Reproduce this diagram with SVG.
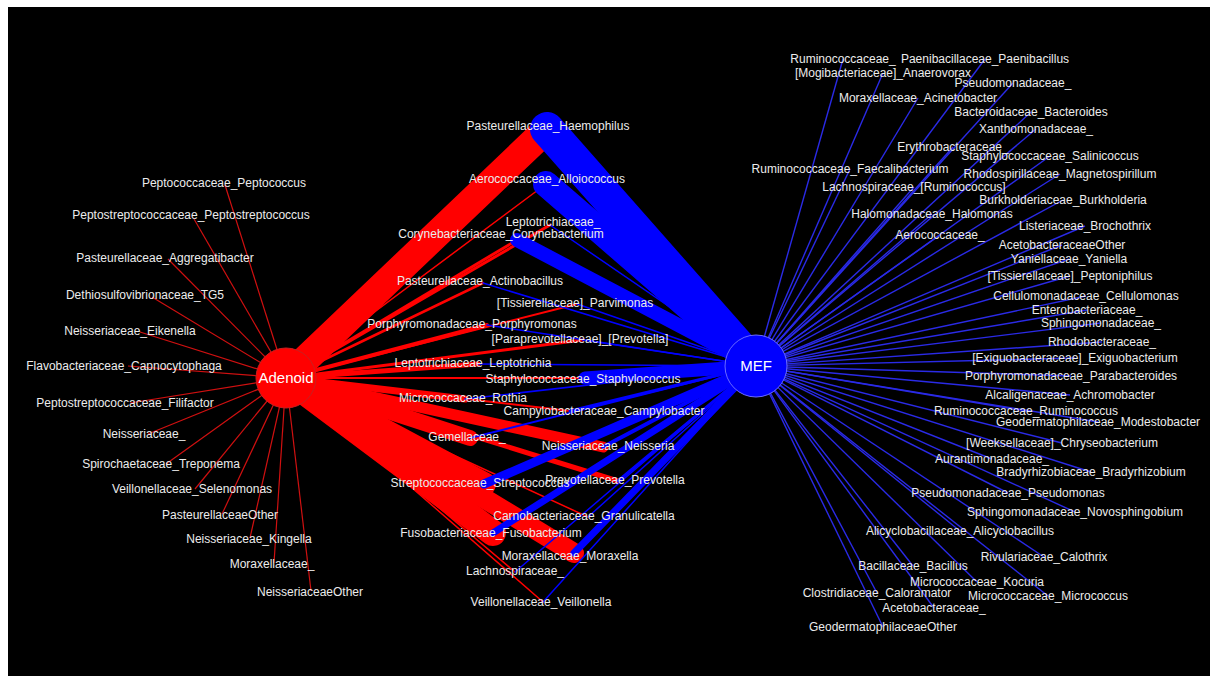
<svg xmlns="http://www.w3.org/2000/svg" width="1210" height="682" viewBox="0 0 1210 682">
<style>
.bg{fill:#000}
.r{stroke:#ff0000;fill:none;stroke-linecap:round}
.rt{stroke:#d01010;stroke-width:1.2;fill:none}
.b{stroke:#0000ff;fill:none;stroke-linecap:round}
.bt{stroke:#2a2ae6;stroke-width:1.4;fill:none}
text{font-family:"Liberation Sans",Arial,sans-serif;font-size:12px;fill:#ececec;text-anchor:middle}
.big{font-size:15px;fill:#ffffff}
</style>
<rect x="0" y="0" width="1210" height="682" fill="#ffffff"/>
<rect class="bg" x="8" y="7" width="1202" height="669"/>
<g id="connectors">
<g class="rt">
<line x1="286" y1="378" x2="225" y2="185"/>
<line x1="286" y1="378" x2="194" y2="219"/>
<line x1="286" y1="378" x2="168" y2="259"/>
<line x1="286" y1="378" x2="152" y2="297"/>
<line x1="286" y1="378" x2="140" y2="332"/>
<line x1="286" y1="378" x2="128" y2="366"/>
<line x1="286" y1="378" x2="130" y2="403"/>
<line x1="286" y1="378" x2="148" y2="434"/>
<line x1="286" y1="378" x2="166" y2="464"/>
<line x1="286" y1="378" x2="195" y2="489"/>
<line x1="286" y1="378" x2="222" y2="514"/>
<line x1="286" y1="378" x2="250" y2="538"/>
<line x1="286" y1="378" x2="274" y2="563"/>
<line x1="286" y1="378" x2="311" y2="591"/>
</g>
<line class="r" x1="286" y1="378" x2="547" y2="129" stroke-width="28"/>
<line class="r" x1="286" y1="378" x2="546" y2="184" stroke-width="1.5"/>
<line class="r" x1="286" y1="378" x2="550" y2="225" stroke-width="3"/>
<line class="r" x1="286" y1="378" x2="517" y2="240" stroke-width="3"/>
<line class="r" x1="286" y1="378" x2="483" y2="283" stroke-width="2.5"/>
<line class="r" x1="286" y1="378" x2="577" y2="304" stroke-width="2"/>
<line class="r" x1="286" y1="378" x2="487" y2="325" stroke-width="4"/>
<line class="r" x1="286" y1="378" x2="583" y2="340" stroke-width="3"/>
<line class="r" x1="286" y1="378" x2="478" y2="364" stroke-width="5"/>
<line class="r" x1="286" y1="378" x2="585" y2="378" stroke-width="2"/>
<line class="r" x1="286" y1="378" x2="465" y2="399" stroke-width="7"/>
<line class="r" x1="286" y1="378" x2="570" y2="411" stroke-width="2"/>
<line class="r" x1="286" y1="378" x2="470" y2="438" stroke-width="16"/>
<line class="r" x1="286" y1="378" x2="603" y2="447" stroke-width="11"/>
<line class="r" x1="286" y1="378" x2="484" y2="484" stroke-width="24"/>
<line class="r" x1="286" y1="378" x2="618" y2="481" stroke-width="5"/>
<line class="r" x1="286" y1="378" x2="588" y2="517" stroke-width="1.5"/>
<line class="r" x1="286" y1="378" x2="493" y2="533" stroke-width="26"/>
<line class="r" x1="286" y1="378" x2="574" y2="553" stroke-width="20"/>
<line class="r" x1="286" y1="378" x2="515" y2="572" stroke-width="1.5"/>
<line class="r" x1="286" y1="378" x2="543" y2="602" stroke-width="1.5"/>
<line class="b" x1="756" y1="366" x2="547" y2="129" stroke-width="34"/>
<line class="b" x1="756" y1="366" x2="546" y2="184" stroke-width="26"/>
<line class="b" x1="756" y1="366" x2="550" y2="225" stroke-width="1.5"/>
<line class="b" x1="756" y1="366" x2="517" y2="240" stroke-width="14"/>
<line class="b" x1="756" y1="366" x2="483" y2="283" stroke-width="1.5"/>
<line class="b" x1="756" y1="366" x2="577" y2="304" stroke-width="1.5"/>
<line class="b" x1="756" y1="366" x2="487" y2="325" stroke-width="1.5"/>
<line class="b" x1="756" y1="366" x2="583" y2="340" stroke-width="1.5"/>
<line class="b" x1="756" y1="366" x2="478" y2="364" stroke-width="1.5"/>
<line class="b" x1="756" y1="366" x2="585" y2="378" stroke-width="13"/>
<line class="b" x1="756" y1="366" x2="465" y2="399" stroke-width="1.5"/>
<line class="b" x1="756" y1="366" x2="570" y2="411" stroke-width="3"/>
<line class="b" x1="756" y1="366" x2="470" y2="438" stroke-width="2"/>
<line class="b" x1="756" y1="366" x2="603" y2="447" stroke-width="4"/>
<line class="b" x1="756" y1="366" x2="484" y2="484" stroke-width="9"/>
<line class="b" x1="756" y1="366" x2="618" y2="481" stroke-width="3"/>
<line class="b" x1="756" y1="366" x2="588" y2="517" stroke-width="1.5"/>
<line class="b" x1="756" y1="366" x2="493" y2="533" stroke-width="7"/>
<line class="b" x1="756" y1="366" x2="574" y2="553" stroke-width="7"/>
<line class="b" x1="756" y1="366" x2="515" y2="572" stroke-width="1.5"/>
<line class="b" x1="756" y1="366" x2="543" y2="602" stroke-width="1.5"/>
<g class="bt">
<line x1="756" y1="366" x2="843" y2="59"/>
<line x1="756" y1="366" x2="985" y2="59"/>
<line x1="756" y1="366" x2="883" y2="73"/>
<line x1="756" y1="366" x2="1013" y2="83"/>
<line x1="756" y1="366" x2="918" y2="98"/>
<line x1="756" y1="366" x2="1031" y2="112"/>
<line x1="756" y1="366" x2="1036" y2="129"/>
<line x1="756" y1="366" x2="953" y2="147"/>
<line x1="756" y1="366" x2="1050" y2="156"/>
<line x1="756" y1="366" x2="850" y2="169"/>
<line x1="756" y1="366" x2="1060" y2="174"/>
<line x1="756" y1="366" x2="914" y2="187"/>
<line x1="756" y1="366" x2="1063" y2="200"/>
<line x1="756" y1="366" x2="932" y2="214"/>
<line x1="756" y1="366" x2="1085" y2="226"/>
<line x1="756" y1="366" x2="940" y2="235"/>
<line x1="756" y1="366" x2="1062" y2="245"/>
<line x1="756" y1="366" x2="1069" y2="259"/>
<line x1="756" y1="366" x2="1070" y2="276"/>
<line x1="756" y1="366" x2="1086" y2="296"/>
<line x1="756" y1="366" x2="1087" y2="310"/>
<line x1="756" y1="366" x2="1101" y2="323"/>
<line x1="756" y1="366" x2="1102" y2="342"/>
<line x1="756" y1="366" x2="1075" y2="358"/>
<line x1="756" y1="366" x2="1071" y2="376"/>
<line x1="756" y1="366" x2="1070" y2="395"/>
<line x1="756" y1="366" x2="1026" y2="411"/>
<line x1="756" y1="366" x2="1098" y2="422"/>
<line x1="756" y1="366" x2="1062" y2="443"/>
<line x1="756" y1="366" x2="992" y2="459"/>
<line x1="756" y1="366" x2="1091" y2="472"/>
<line x1="756" y1="366" x2="1008" y2="493"/>
<line x1="756" y1="366" x2="1075" y2="512"/>
<line x1="756" y1="366" x2="960" y2="531"/>
<line x1="756" y1="366" x2="1044" y2="557"/>
<line x1="756" y1="366" x2="913" y2="566"/>
<line x1="756" y1="366" x2="977" y2="582"/>
<line x1="756" y1="366" x2="877" y2="593"/>
<line x1="756" y1="366" x2="1048" y2="596"/>
<line x1="756" y1="366" x2="934" y2="608"/>
<line x1="756" y1="366" x2="883" y2="627"/>
</g>
</g>
<g id="node-Adenoid"><circle cx="286" cy="378" r="30" fill="#ff0000" stroke="#c82020" stroke-width="1"/><text class="big" x="286" y="383">Adenoid</text></g>
<g id="node-MEF"><circle cx="756" cy="366" r="31" fill="#0000ff" stroke="#6a6aff" stroke-width="1"/><text class="big" x="756" y="371">MEF</text></g>
<g id="n-Peptococcus"><text x="224" y="187">Peptococcaceae_Peptococcus</text></g>
<g id="n-Peptostreptococcus"><text x="191" y="219">Peptostreptococcaceae_Peptostreptococcus</text></g>
<g id="n-Aggregatibacter"><text x="165" y="262">Pasteurellaceae_Aggregatibacter</text></g>
<g id="n-TG5"><text x="145" y="299">Dethiosulfovibrionaceae_TG5</text></g>
<g id="n-Eikenella"><text x="130" y="335">Neisseriaceae_Eikenella</text></g>
<g id="n-Capnocytophaga"><text x="124" y="370">Flavobacteriaceae_Capnocytophaga</text></g>
<g id="n-Filifactor"><text x="125" y="407">Peptostreptococcaceae_Filifactor</text></g>
<g id="n-Neisseriaceae"><text x="144" y="438">Neisseriaceae_</text></g>
<g id="n-Treponema"><text x="161" y="468">Spirochaetaceae_Treponema</text></g>
<g id="n-Selenomonas"><text x="192" y="493">Veillonellaceae_Selenomonas</text></g>
<g id="n-PasteurellaceaeOther"><text x="220" y="519">PasteurellaceaeOther</text></g>
<g id="n-Kingella"><text x="249" y="543">Neisseriaceae_Kingella</text></g>
<g id="n-Moraxellaceae"><text x="272" y="568">Moraxellaceae_</text></g>
<g id="n-NeisseriaceaeOther"><text x="310" y="596">NeisseriaceaeOther</text></g>
<g id="n-Haemophilus"><text x="548" y="130">Pasteurellaceae_Haemophilus</text></g>
<g id="n-Alloiococcus"><text x="547" y="183">Aerococcaceae_Alloiococcus</text></g>
<g id="n-Leptotrichiaceae"><text x="553" y="226">Leptotrichiaceae_</text></g>
<g id="n-Corynebacterium"><text x="501" y="238">Corynebacteriaceae_Corynebacterium</text></g>
<g id="n-Actinobacillus"><text x="480" y="285">Pasteurellaceae_Actinobacillus</text></g>
<g id="n-Parvimonas"><text x="575" y="307">[Tissierellaceae]_Parvimonas</text></g>
<g id="n-Porphyromonas"><text x="472" y="328">Porphyromonadaceae_Porphyromonas</text></g>
<g id="n-Paraprevotella"><text x="580" y="343">[Paraprevotellaceae]_[Prevotella]</text></g>
<g id="n-Leptotrichia"><text x="473" y="367">Leptotrichiaceae_Leptotrichia</text></g>
<g id="n-Staphylococcus"><text x="583" y="383">Staphylococcaceae_Staphylococcus</text></g>
<g id="n-Rothia"><text x="463" y="402">Micrococcaceae_Rothia</text></g>
<g id="n-Campylobacter"><text x="604" y="415">Campylobacteraceae_Campylobacter</text></g>
<g id="n-Gemellaceae"><text x="467" y="441">Gemellaceae_</text></g>
<g id="n-Neisseria"><text x="608" y="450">Neisseriaceae_Neisseria</text></g>
<g id="n-Streptococcus"><text x="480" y="487">Streptococcaceae_Streptococcus</text></g>
<g id="n-Prevotella"><text x="615" y="484">Prevotellaceae_Prevotella</text></g>
<g id="n-Granulicatella"><text x="584" y="520">Carnobacteriaceae_Granulicatella</text></g>
<g id="n-Fusobacterium"><text x="491" y="537">Fusobacteriaceae_Fusobacterium</text></g>
<g id="n-Moraxella"><text x="570" y="560">Moraxellaceae_Moraxella</text></g>
<g id="n-Lachnospiraceae"><text x="515" y="575">Lachnospiraceae_</text></g>
<g id="n-Veillonella"><text x="541" y="606">Veillonellaceae_Veillonella</text></g>
<g id="n-Ruminococcaceae"><text x="843" y="63">Ruminococcaceae_</text></g>
<g id="n-Paenibacillus"><text x="985" y="63">Paenibacillaceae_Paenibacillus</text></g>
<g id="n-Anaerovorax"><text x="883" y="77">[Mogibacteriaceae]_Anaerovorax</text></g>
<g id="n-Pseudomonadaceae"><text x="1013" y="87">Pseudomonadaceae_</text></g>
<g id="n-Acinetobacter"><text x="918" y="102">Moraxellaceae_Acinetobacter</text></g>
<g id="n-Bacteroides"><text x="1031" y="116">Bacteroidaceae_Bacteroides</text></g>
<g id="n-Xanthomonadaceae"><text x="1036" y="133">Xanthomonadaceae_</text></g>
<g id="n-Erythrobacteraceae"><text x="953" y="151">Erythrobacteraceae_</text></g>
<g id="n-Salinicoccus"><text x="1050" y="160">Staphylococcaceae_Salinicoccus</text></g>
<g id="n-Faecalibacterium"><text x="850" y="173">Ruminococcaceae_Faecalibacterium</text></g>
<g id="n-Magnetospirillum"><text x="1060" y="178">Rhodospirillaceae_Magnetospirillum</text></g>
<g id="n-Ruminococcus2"><text x="914" y="191">Lachnospiraceae_[Ruminococcus]</text></g>
<g id="n-Burkholderia"><text x="1063" y="204">Burkholderiaceae_Burkholderia</text></g>
<g id="n-Halomonas"><text x="932" y="218">Halomonadaceae_Halomonas</text></g>
<g id="n-Brochothrix"><text x="1085" y="230">Listeriaceae_Brochothrix</text></g>
<g id="n-Aerococcaceae"><text x="940" y="239">Aerococcaceae_</text></g>
<g id="n-AcetobacteraceaeOther"><text x="1062" y="249">AcetobacteraceaeOther</text></g>
<g id="n-Yaniella"><text x="1069" y="263">Yaniellaceae_Yaniella</text></g>
<g id="n-Peptoniphilus"><text x="1070" y="280">[Tissierellaceae]_Peptoniphilus</text></g>
<g id="n-Cellulomonas"><text x="1086" y="300">Cellulomonadaceae_Cellulomonas</text></g>
<g id="n-Enterobacteriaceae"><text x="1087" y="314">Enterobacteriaceae_</text></g>
<g id="n-Sphingomonadaceae"><text x="1101" y="327">Sphingomonadaceae_</text></g>
<g id="n-Rhodobacteraceae"><text x="1102" y="346">Rhodobacteraceae_</text></g>
<g id="n-Exiguobacterium"><text x="1075" y="362">[Exiguobacteraceae]_Exiguobacterium</text></g>
<g id="n-Parabacteroides"><text x="1071" y="380">Porphyromonadaceae_Parabacteroides</text></g>
<g id="n-Achromobacter"><text x="1070" y="399">Alcaligenaceae_Achromobacter</text></g>
<g id="n-Ruminococcus"><text x="1026" y="415">Ruminococcaceae_Ruminococcus</text></g>
<g id="n-Modestobacter"><text x="1098" y="426">Geodermatophilaceae_Modestobacter</text></g>
<g id="n-Chryseobacterium"><text x="1062" y="447">[Weeksellaceae]_Chryseobacterium</text></g>
<g id="n-Aurantimonadaceae"><text x="992" y="463">Aurantimonadaceae_</text></g>
<g id="n-Bradyrhizobium"><text x="1091" y="476">Bradyrhizobiaceae_Bradyrhizobium</text></g>
<g id="n-Pseudomonas"><text x="1008" y="497">Pseudomonadaceae_Pseudomonas</text></g>
<g id="n-Novosphingobium"><text x="1075" y="516">Sphingomonadaceae_Novosphingobium</text></g>
<g id="n-Alicyclobacillus"><text x="960" y="535">Alicyclobacillaceae_Alicyclobacillus</text></g>
<g id="n-Calothrix"><text x="1044" y="561">Rivulariaceae_Calothrix</text></g>
<g id="n-Bacillus"><text x="913" y="570">Bacillaceae_Bacillus</text></g>
<g id="n-Kocuria"><text x="977" y="586">Micrococcaceae_Kocuria</text></g>
<g id="n-Caloramator"><text x="877" y="597">Clostridiaceae_Caloramator</text></g>
<g id="n-Micrococcus"><text x="1048" y="600">Micrococcaceae_Micrococcus</text></g>
<g id="n-Acetobacteraceae"><text x="934" y="612">Acetobacteraceae_</text></g>
<g id="n-GeodermatophilaceaeOther"><text x="883" y="631">GeodermatophilaceaeOther</text></g>
</svg>
